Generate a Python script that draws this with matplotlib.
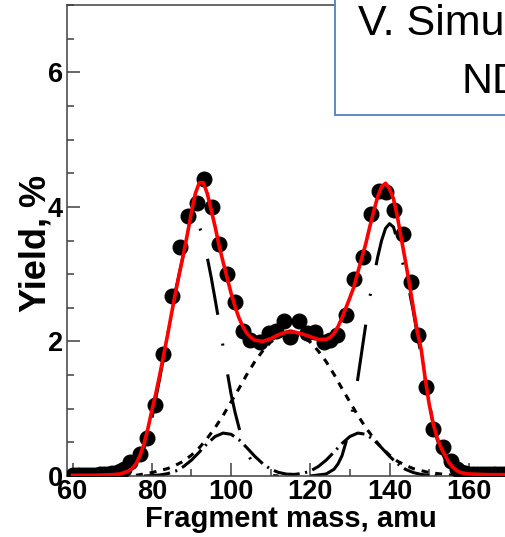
import matplotlib
matplotlib.use('Agg')
import matplotlib.pyplot as plt
from matplotlib.patches import Rectangle
from matplotlib.ticker import MultipleLocator

plt.rcParams['font.family'] = ['Liberation Sans', 'DejaVu Sans']
plt.rcParams['lines.scale_dashes'] = False

# experimental yields (points)
mass_exp = [60, 61, 62, 63, 64, 65, 66, 67, 68, 69, 70, 71, 72, 73, 74.5, 76.9, 78.9,
            80.8, 82.9, 85.1, 87, 89.1, 91.4, 93.1, 95.3, 97, 99, 100.9, 102.9, 104.9,
            107.2, 109.5, 111.4, 113.3, 115, 117.1, 119.2, 121.3, 123.4, 125.1, 126.8,
            129.1, 131, 133.2, 135.3, 137.4, 139.1, 141.2, 143.3, 145.4, 147.2, 149.2,
            151.1, 153.4, 155.5, 157, 158, 159, 160, 161, 162, 163, 164, 165, 166, 167,
            168, 169, 170]
yield_exp = [0.02, 0.02, 0.02, 0.02, 0.02, 0.02, 0.02, 0.03, 0.03, 0.03, 0.04, 0.05, 0.07,
             0.1, 0.21, 0.32, 0.57, 1.05, 1.82, 2.67, 3.4, 3.86, 4.06, 4.42, 4.0, 3.45,
             3.0, 2.58, 2.16, 2.02, 1.99, 2.12, 2.16, 2.30, 2.07, 2.30, 2.12, 2.14, 1.99,
             2.02, 2.09, 2.40, 2.93, 3.26, 3.89, 4.23, 4.22, 3.95, 3.60, 2.88, 2.09, 1.32,
             0.70, 0.43, 0.23, 0.1, 0.06, 0.04, 0.03, 0.03, 0.03, 0.03, 0.03, 0.03, 0.03,
             0.03, 0.03, 0.03, 0.03]

# total fit (red)
mass_fit = [60, 65, 70, 72, 74, 75, 76, 77, 78, 79, 80, 81, 82, 83, 84, 85, 86, 87, 88,
            89, 90, 91, 92, 93, 94, 95, 96, 97, 98, 99, 100, 101, 102, 103, 104, 105, 106,
            108, 110, 112, 114, 116, 118, 120, 122, 124, 125, 126, 127, 128, 129, 130,
            131, 132, 133, 134, 135, 136, 137, 138, 139, 140, 141, 142, 143, 144, 145,
            146, 147, 148, 149, 150, 151, 152, 153, 154, 155, 156, 157, 158, 160, 165, 170]
yield_fit = [0.01, 0.01, 0.02, 0.03, 0.07, 0.11, 0.18, 0.3, 0.47, 0.7, 0.97, 1.22, 1.5,
             1.8, 2.1, 2.42, 2.73, 3.02, 3.3, 3.6, 3.92, 4.2, 4.36, 4.36, 4.2, 3.95, 3.7,
             3.42, 3.18, 2.95, 2.72, 2.52, 2.35, 2.22, 2.12, 2.06, 2.02, 2.0, 2.04, 2.1,
             2.14, 2.14, 2.11, 2.07, 2.03, 2.03, 2.06, 2.12, 2.22, 2.35, 2.5, 2.65, 2.81,
             3.03, 3.24, 3.45, 3.7, 3.93, 4.15, 4.3, 4.35, 4.27, 4.12, 3.85, 3.52, 3.2,
             2.86, 2.5, 2.15, 1.88, 1.45, 1.07, 0.78, 0.57, 0.42, 0.31, 0.2, 0.13, 0.08,
             0.05, 0.03, 0.02, 0.02]

# light asymmetric peak component
mass_p1 = [60, 70, 74, 76, 78, 80, 82, 84, 86, 88, 90, 91, 92, 93, 94, 95, 96, 97, 98,
           99, 100, 101, 102, 103, 104, 105, 106, 108, 110, 112]
yield_p1 = [0.0, 0.0, 0.05, 0.15, 0.4, 0.85, 1.45, 2.1, 2.75, 3.3, 3.65, 3.72, 3.7, 3.55,
            3.25, 2.95, 2.62, 2.28, 1.92, 1.56, 1.22, 0.95, 0.72, 0.52, 0.36, 0.24, 0.15,
            0.05, 0.01, 0.0]

# heavy asymmetric peak component
mass_p2 = [120, 124, 126, 127, 128, 129, 130, 131, 132, 133, 134, 135, 136, 137, 138, 139,
           140, 141, 142, 143, 144, 145, 146, 147, 148, 149, 150, 151, 152, 153, 154, 155,
           156, 158, 160, 170]
yield_p2 = [0.0, 0.03, 0.1, 0.18, 0.3, 0.5, 0.75, 1.1, 1.45, 1.85, 2.25, 2.65, 2.95, 3.25,
            3.5, 3.68, 3.75, 3.7, 3.5, 3.25, 3.0, 2.75, 2.45, 2.1, 1.8, 1.45, 1.1, 0.78,
            0.55, 0.38, 0.25, 0.16, 0.1, 0.03, 0.01, 0.0]

# broad symmetric component
mass_sym = [76, 80, 84, 86, 88, 90, 92, 94, 96, 98, 100, 102, 104, 106, 108, 110, 112, 114,
            116, 118, 120, 122, 124, 126, 128, 130, 132, 134, 136, 138, 140, 142, 144, 146,
            150, 156]
yield_sym = [0.01, 0.05, 0.11, 0.16, 0.22, 0.31, 0.42, 0.56, 0.72, 0.9, 1.1, 1.3, 1.51,
             1.7, 1.86, 1.99, 2.07, 2.1, 2.1, 2.07, 1.99, 1.86, 1.7, 1.51, 1.3, 1.1, 0.9,
             0.72, 0.56, 0.42, 0.31, 0.22, 0.16, 0.11, 0.05, 0.01]

# small shoulders
mass_b = [78, 80, 82, 84, 86, 88, 90, 92, 94, 96, 98, 100, 102, 104, 106, 108, 110, 112,
          114, 116, 118, 120, 122, 124, 126, 128, 130, 132, 134, 136, 138, 140, 142, 144,
          146, 148, 150, 152]
yield_b = [0.0, 0.006, 0.015, 0.035, 0.073, 0.14, 0.235, 0.356, 0.483, 0.587, 0.638, 0.62,
           0.54, 0.42, 0.293, 0.183, 0.1, 0.053, 0.028, 0.024, 0.038, 0.073, 0.14, 0.235,
           0.356, 0.483, 0.587, 0.638, 0.62, 0.54, 0.42, 0.293, 0.183, 0.1, 0.051, 0.023,
           0.009, 0.0]

fig = plt.figure(figsize=(5.06, 5.37), dpi=100)
ax = fig.add_axes([67 / 506, 61 / 537, 481 / 506, 471 / 537])

ax.plot(mass_sym, yield_sym, color='black', lw=2.2, dashes=(5, 5), zorder=2)
ax.plot(mass_b, yield_b, color='black', lw=2.2, dashes=(19, 4, 1.5, 4), zorder=2)
ax.plot(mass_p1, yield_p1, color='black', lw=2.2, dashes=(41, 21, 1.5, 21), zorder=2)
ax.plot(mass_p2, yield_p2, color='black', lw=2.2, dashes=(41, 21, 1.5, 21), zorder=2)
ax.plot(mass_exp, yield_exp, 'o', color='black', ms=10.5, zorder=3)
ax.plot(mass_fit, yield_fit, color='red', lw=2.6, zorder=4)

ax.set_xlim(58.6, 180)
ax.set_ylim(0, 7)
ax.xaxis.set_major_locator(MultipleLocator(20))
ax.xaxis.set_minor_locator(MultipleLocator(10))
ax.yaxis.set_major_locator(MultipleLocator(2))
ax.yaxis.set_minor_locator(MultipleLocator(0.5))
ax.tick_params(which='both', direction='in', width=1.1, color='#404040')
ax.tick_params(which='major', length=9.5)
ax.tick_params(which='minor', length=5)
ax.tick_params(axis='x', pad=2)
ax.tick_params(axis='y', pad=3)
for lab in ax.get_xticklabels() + ax.get_yticklabels():
    lab.set_fontsize(19.5)
    lab.set_fontweight('bold')
for s in ax.spines.values():
    s.set_color('#404040')
    s.set_linewidth(1.1)

fig.text(291 / 506, 1 - 527 / 537, 'Fragment mass, amu', ha='center', va='baseline',
         fontsize=21, fontweight='bold')
fig.text(46 / 506, 1 - 243.5 / 537, 'Yield, %', rotation=90, rotation_mode='anchor',
         ha='center', va='baseline', fontsize=26, fontweight='bold')

box = Rectangle((335 / 506, 1 - 115 / 537), 0.5, 0.3, transform=fig.transFigure,
                facecolor='white', edgecolor='#4F81BD', lw=1.3, zorder=10)
fig.add_artist(box)
fig.text(358 / 506, 1 - 35 / 537, 'V. Simutkin et al.', ha='left', va='baseline',
         fontsize=31, zorder=11)
fig.text(462 / 506, 1 - 93 / 537, 'ND2013', ha='left', va='baseline',
         fontsize=31, zorder=11)

fig.savefig('out.png', dpi=100)
